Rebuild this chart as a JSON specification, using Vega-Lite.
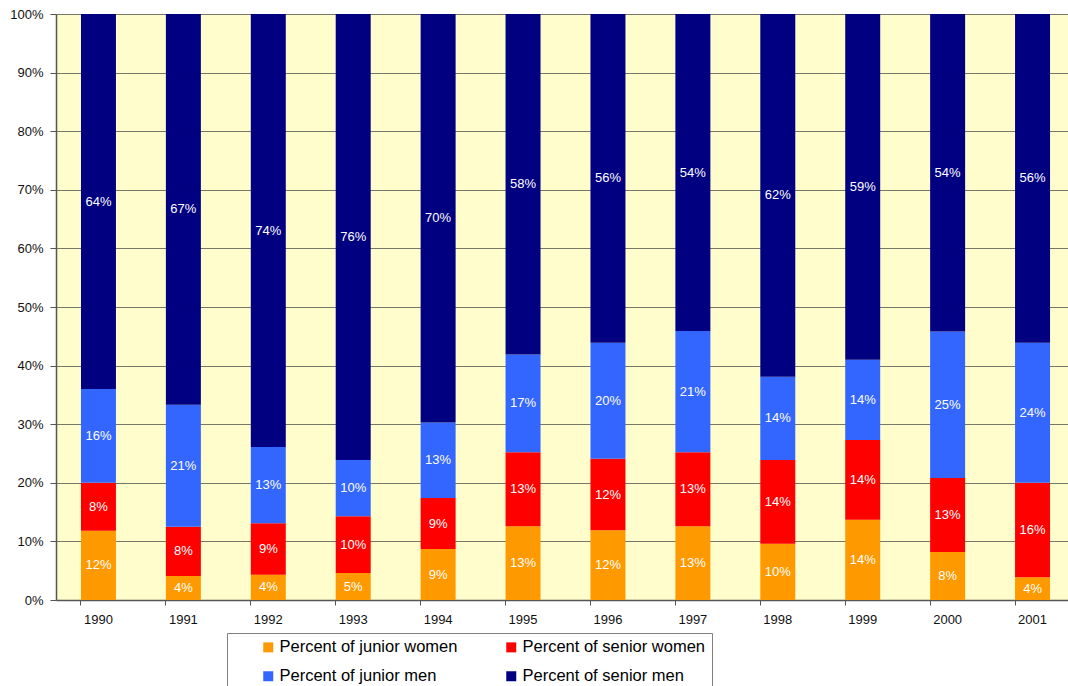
{
  "$schema": "https://vega.github.io/schema/vega-lite/v6.json",
  "autosize": {"type": "none"},
  "padding": {"left": 56, "top": 14, "right": 0, "bottom": 86},
  "width": 1019,
  "height": 586,
  "background": "#ffffff",
  "config": {
    "view": {"fill": "#FFFDCC", "stroke": null},
    "font": "Liberation Sans"
  },
  "data": {
    "values": [
      {"year": "1990", "k": 1, "cat": "Percent of junior women", "value": 0.118},
      {"year": "1990", "k": 2, "cat": "Percent of senior women", "value": 0.082},
      {"year": "1990", "k": 3, "cat": "Percent of junior men", "value": 0.160},
      {"year": "1990", "k": 4, "cat": "Percent of senior men", "value": 0.640},
      {"year": "1991", "k": 1, "cat": "Percent of junior women", "value": 0.041},
      {"year": "1991", "k": 2, "cat": "Percent of senior women", "value": 0.084},
      {"year": "1991", "k": 3, "cat": "Percent of junior men", "value": 0.208},
      {"year": "1991", "k": 4, "cat": "Percent of senior men", "value": 0.667},
      {"year": "1992", "k": 1, "cat": "Percent of junior women", "value": 0.043},
      {"year": "1992", "k": 2, "cat": "Percent of senior women", "value": 0.088},
      {"year": "1992", "k": 3, "cat": "Percent of junior men", "value": 0.130},
      {"year": "1992", "k": 4, "cat": "Percent of senior men", "value": 0.739},
      {"year": "1993", "k": 1, "cat": "Percent of junior women", "value": 0.046},
      {"year": "1993", "k": 2, "cat": "Percent of senior women", "value": 0.097},
      {"year": "1993", "k": 3, "cat": "Percent of junior men", "value": 0.096},
      {"year": "1993", "k": 4, "cat": "Percent of senior men", "value": 0.761},
      {"year": "1994", "k": 1, "cat": "Percent of junior women", "value": 0.087},
      {"year": "1994", "k": 2, "cat": "Percent of senior women", "value": 0.087},
      {"year": "1994", "k": 3, "cat": "Percent of junior men", "value": 0.129},
      {"year": "1994", "k": 4, "cat": "Percent of senior men", "value": 0.697},
      {"year": "1995", "k": 1, "cat": "Percent of junior women", "value": 0.126},
      {"year": "1995", "k": 2, "cat": "Percent of senior women", "value": 0.126},
      {"year": "1995", "k": 3, "cat": "Percent of junior men", "value": 0.167},
      {"year": "1995", "k": 4, "cat": "Percent of senior men", "value": 0.581},
      {"year": "1996", "k": 1, "cat": "Percent of junior women", "value": 0.119},
      {"year": "1996", "k": 2, "cat": "Percent of senior women", "value": 0.122},
      {"year": "1996", "k": 3, "cat": "Percent of junior men", "value": 0.198},
      {"year": "1996", "k": 4, "cat": "Percent of senior men", "value": 0.561},
      {"year": "1997", "k": 1, "cat": "Percent of junior women", "value": 0.126},
      {"year": "1997", "k": 2, "cat": "Percent of senior women", "value": 0.126},
      {"year": "1997", "k": 3, "cat": "Percent of junior men", "value": 0.207},
      {"year": "1997", "k": 4, "cat": "Percent of senior men", "value": 0.541},
      {"year": "1998", "k": 1, "cat": "Percent of junior women", "value": 0.096},
      {"year": "1998", "k": 2, "cat": "Percent of senior women", "value": 0.143},
      {"year": "1998", "k": 3, "cat": "Percent of junior men", "value": 0.142},
      {"year": "1998", "k": 4, "cat": "Percent of senior men", "value": 0.619},
      {"year": "1999", "k": 1, "cat": "Percent of junior women", "value": 0.137},
      {"year": "1999", "k": 2, "cat": "Percent of senior women", "value": 0.136},
      {"year": "1999", "k": 3, "cat": "Percent of junior men", "value": 0.137},
      {"year": "1999", "k": 4, "cat": "Percent of senior men", "value": 0.590},
      {"year": "2000", "k": 1, "cat": "Percent of junior women", "value": 0.082},
      {"year": "2000", "k": 2, "cat": "Percent of senior women", "value": 0.126},
      {"year": "2000", "k": 3, "cat": "Percent of junior men", "value": 0.250},
      {"year": "2000", "k": 4, "cat": "Percent of senior men", "value": 0.542},
      {"year": "2001", "k": 1, "cat": "Percent of junior women", "value": 0.039},
      {"year": "2001", "k": 2, "cat": "Percent of senior women", "value": 0.161},
      {"year": "2001", "k": 3, "cat": "Percent of junior men", "value": 0.239},
      {"year": "2001", "k": 4, "cat": "Percent of senior men", "value": 0.561}
    ]
  },
  "encoding": {
    "x": {
      "field": "year",
      "type": "ordinal",
      "title": null,
      "scale": {"paddingInner": 0.588, "paddingOuter": 0.294},
      "axis": {
        "labelAngle": 0,
        "bandPosition": 0,
        "labelFontSize": 13,
        "labelColor": "#111111",
        "labelPadding": 8,
        "tickSize": 5,
        "tickColor": "#555555",
        "domainColor": "#555555",
        "domainWidth": 1.5,
        "grid": false
      }
    },
    "y": {
      "field": "value",
      "type": "quantitative",
      "stack": "zero",
      "title": null,
      "scale": {"domain": [0, 1], "nice": false},
      "axis": {
        "format": ".0%",
        "values": [0, 0.1, 0.2, 0.3, 0.4, 0.5, 0.6, 0.7, 0.8, 0.9, 1],
        "labelFontSize": 13,
        "labelColor": "#111111",
        "labelPadding": 7,
        "tickSize": 6,
        "tickColor": "#555555",
        "domainColor": "#555555",
        "domainWidth": 1.5,
        "grid": true,
        "gridColor": "#77776a",
        "gridWidth": 1
      }
    },
    "order": {"field": "k", "type": "quantitative"}
  },
  "layer": [
    {
      "mark": {"type": "bar"},
      "encoding": {
        "color": {
          "field": "cat",
          "type": "nominal",
          "scale": {
            "domain": ["Percent of junior women", "Percent of senior women", "Percent of junior men", "Percent of senior men"],
            "range": ["#FF9900", "#FF0000", "#3366FF", "#000080"]
          },
          "legend": {
            "title": null,
            "orient": "none",
            "direction": "horizontal",
            "legendX": 171,
            "legendY": 619,
            "columns": 2,
            "columnPadding": 18,
            "rowPadding": 12,
            "padding": 6,
            "symbolOffset": 27,
            "symbolType": "square",
            "symbolSize": 100,
            "symbolStrokeWidth": 0,
            "labelOffset": 3,
            "labelFontSize": 16.5,
            "labelColor": "#000000",
            "labelLimit": 400,
            "strokeColor": "#808080",
            "fillColor": "#ffffff"
          }
        }
      }
    },
    {
      "mark": {"type": "text", "color": "#ffffff", "fontSize": 13, "baseline": "middle", "align": "center"},
      "encoding": {
        "y": {"field": "value", "type": "quantitative", "stack": "zero", "bandPosition": 0.5},
        "text": {"field": "value", "type": "quantitative", "format": ".0%"}
      }
    }
  ]
}
